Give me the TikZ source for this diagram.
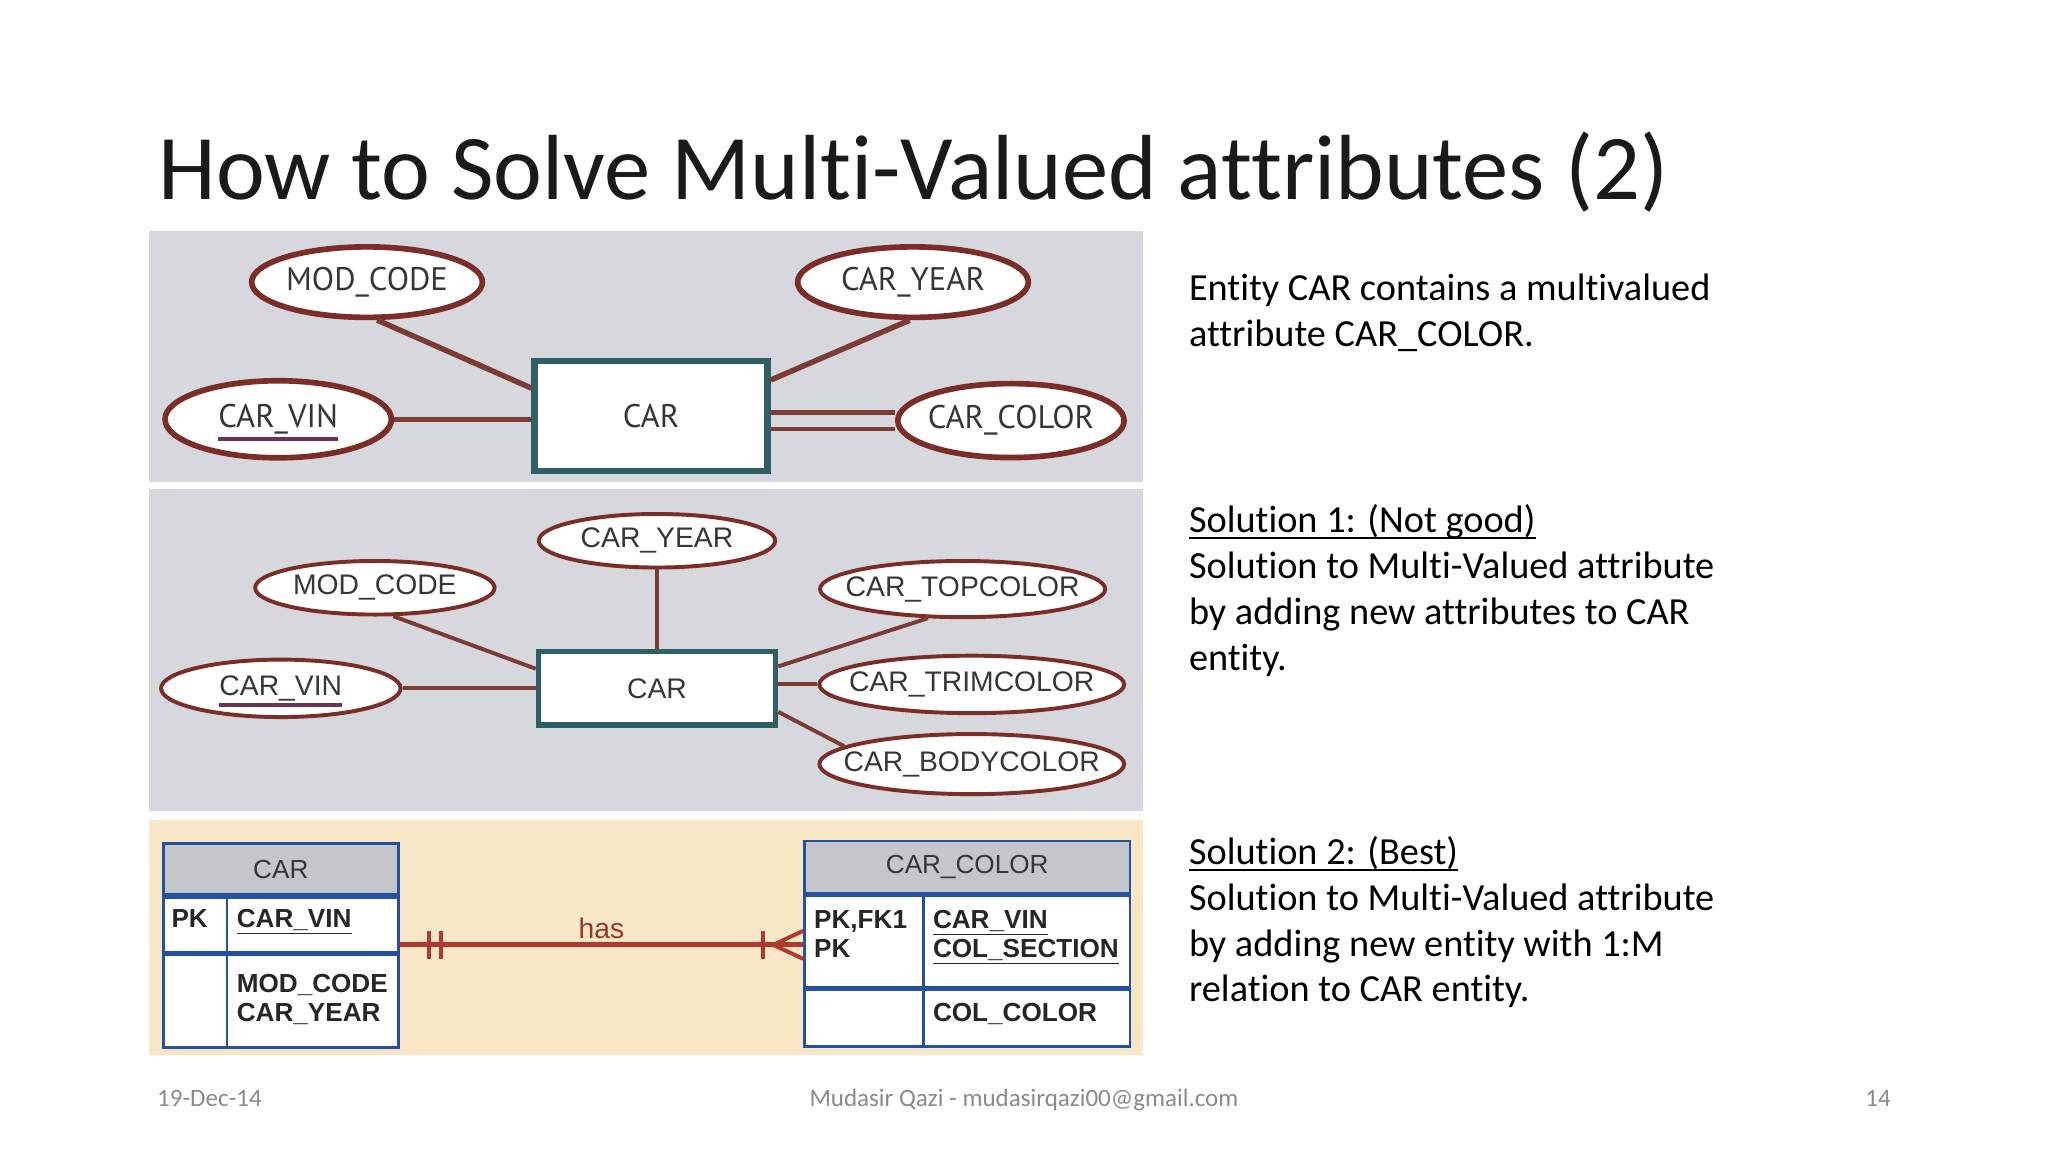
\documentclass[tikz,border=0pt]{standalone}
\usepackage{fontspec}
\setmainfont{Carlito}[Ligatures=NoCommon]
\newfontfamily\erfont{PT Sans}
\newfontfamily\erwide{Liberation Sans}
\newfontfamily\tbfont{Liberation Sans}
\usetikzlibrary{shapes.geometric,positioning,calc}
\definecolor{erbg}{HTML}{D7D8DD}
\definecolor{erbeige}{HTML}{F8E7C6}
\definecolor{erbrown}{HTML}{7B2D28}
\definecolor{erline}{HTML}{7D3B36}
\definecolor{erteal}{HTML}{2F5E63}
\definecolor{ertext}{HTML}{363636}
\definecolor{erkeyline}{HTML}{6B3550}
\definecolor{tbblue}{HTML}{2450A0}
\definecolor{tbgray}{HTML}{C3C6CB}
\definecolor{relred}{HTML}{B0392E}
\definecolor{footgray}{HTML}{8A8A8A}
\definecolor{titleink}{HTML}{1A1A1A}
% underline of a key attribute: a rule below the word
\newcommand\erkey[3]{\setbox0\hbox{#1}\rlap{\smash{\color{erkeyline}\rule[-#2]{\wd0}{#3}}}\box0}
\newcommand\slideul[1]{\setbox0\hbox{#1}\rlap{\rule[-3pt]{\wd0}{1pt}}\box0}
\tikzset{
  attr/.style={ellipse, draw=erbrown, line width=2.6pt, fill=white, text=ertext,
    inner xsep=-25pt, inner ysep=0pt, font=\erfont\fontsize{15}{17}\selectfont},
  attrb/.style={attr, line width=1.8pt, font=\erwide\fontsize{13}{15}\selectfont},
  entity/.style={draw=erteal, line width=3pt, fill=white, text=ertext, inner sep=0pt,
    font=\erfont\fontsize{15}{17}\selectfont},
  entityb/.style={entity, line width=2.4pt, font=\erwide\fontsize{13}{15}\selectfont},
  erlink/.style={draw=erline, line width=2.5pt},
  erlinkb/.style={erlink, line width=1.8pt},
  tbcell/.style={draw=tbblue, line width=1.2pt, fill=white, inner sep=0pt},
  tbhead/.style={tbcell, fill=tbgray, text=ertext, font=\tbfont\fontsize{12}{14}\selectfont},
  tbtext/.style={anchor=base west, inner sep=0pt, text=black!85, align=left,
    font=\tbfont\bfseries\fontsize{12}{14}\selectfont},
  rel/.style={draw=relred, line width=2.3pt},
  relbar/.style={draw=relred, line width=1.8pt},
  para/.style={anchor=base west, align=left, inner sep=0pt, font=\fontsize{17.6}{21}\selectfont},
  foot/.style={inner sep=0pt, text=footgray, font=\fontsize{11.5}{13}\selectfont}
}
\begin{document}
\begin{tikzpicture}[x=0.6pt, y=-0.6pt]
\useasboundingbox (0,0) rectangle (1568,882);
% panels
\fill[erbg] (114,177) rectangle (875,369);
\fill[erbg] (114,374) rectangle (875,621);
\fill[erbeige] (114,628) rectangle (875,808);

\node[anchor=base west, inner sep=0pt, text=titleink, font=\fontsize{42.5}{50}\selectfont] (title) at (121,153)
  {How to Solve Multi-Valued attributes (2)};

% panel 1: CAR with multivalued CAR_COLOR
\node[entity, minimum width=107pt, minimum height=50.4pt] (car1) at (498.5,318.5) {CAR};
\node[attr, minimum width=106pt, minimum height=32.4pt] (mod1) at (281,216) {MOD\_CODE};
\node[attr, minimum width=106pt, minimum height=32.4pt] (year1) at (699,216) {CAR\_YEAR};
\node[attr, minimum width=104pt, minimum height=35.4pt] (vin1) at (213,321) {\erkey{CAR\_VIN}{6.3pt}{2.1pt}};
\node[attr, minimum width=104pt, minimum height=34pt] (col1) at (774,322) {CAR\_COLOR};
\draw[erlink] (mod1.-75) -- ($(car1.north west)!0.26!(car1.south west)$);
\draw[erlink] (year1.-95) -- ($(car1.north east)!0.19!(car1.south east)$);
\draw[erlink] (vin1.east) -- (vin1.east -| car1.west);
\draw[erlink, line width=2.1pt, double=erbg, double distance=5.5pt] (col1.west -| car1.east) -- (col1.west);

% panel 2: solution 1
\node[entityb, minimum width=109pt, minimum height=33.6pt] (car2) at (503,527) {CAR};
\node[attrb, minimum width=108.6pt, minimum height=24.6pt] (year2) at (503,414) {CAR\_YEAR};
\node[attrb, minimum width=110pt, minimum height=24.6pt] (mod2) at (287,450) {MOD\_CODE};
\node[attrb, minimum width=131pt, minimum height=25.8pt] (top2) at (737,451) {CAR\_TOPCOLOR};
\node[attrb, minimum width=110pt, minimum height=26.4pt] (vin2) at (215,527) {\erkey{CAR\_VIN}{5.2pt}{1.7pt}};
\node[attrb, minimum width=140pt, minimum height=26.4pt] (trim2) at (744,524) {CAR\_TRIMCOLOR};
\node[attrb, minimum width=140pt, minimum height=27.6pt] (body2) at (744,585) {CAR\_BODYCOLOR};
\draw[erlinkb] (year2.south) -- (car2.north);
\draw[erlinkb] (mod2.-57) -- ($(car2.north west)!0.25!(car2.south west)$);
\draw[erlinkb] (top2.-140) -- ($(car2.north east)!0.22!(car2.south east)$);
\draw[erlinkb] (vin2.east) -- (vin2.east -| car2.west);
\draw[erlinkb] (trim2.west) -- (trim2.west -| car2.east);
\draw[erlinkb] (body2.172) -- ($(car2.north east)!0.8!(car2.south east)$);

% panel 3: solution 2, tables
\node[tbhead, minimum width=108pt, minimum height=23.4pt, anchor=north west] (carhd) at (124,645) {CAR};
\node[tbcell, minimum width=108pt, minimum height=25.2pt, anchor=north] (carpk) at (carhd.south) {};
\node[tbcell, minimum width=108pt, minimum height=42.6pt, anchor=north] (carat) at (carpk.south) {};
\draw[tbblue, line width=1.2pt] ([xshift=29.8pt]carpk.north west) -- ([xshift=29.8pt]carat.south west);
\node[tbtext] (carpkl) at (131,710) {PK};
\node[tbtext] (carvin) at (181,710) {\underline{CAR\_VIN}};
\node[tbtext] (carmod) at (181,782) {MOD\_CODE\\[-0.8pt]CAR\_YEAR};

\node[tbhead, minimum width=149.4pt, minimum height=24pt, anchor=north west] (colhd) at (615,643) {CAR\_COLOR};
\node[tbcell, minimum width=149.4pt, minimum height=42pt, anchor=north] (colpk) at (colhd.south) {};
\node[tbcell, minimum width=149.4pt, minimum height=25.8pt, anchor=north] (colat) at (colpk.south) {};
\draw[tbblue, line width=1.2pt] ([xshift=55.2pt]colpk.north west) -- ([xshift=55.2pt]colat.south west);
\node[tbtext] (colpkl) at (623,733) {PK,FK1\\[-0.8pt]PK};
\node[tbtext] (colkey) at (714,733) {\underline{CAR\_VIN}\\[-0.8pt]\underline{COL\_SECTION}};
\node[tbtext] (colcol) at (714,782) {COL\_COLOR};

% 1:M relationship
\coordinate (relL) at ($(carpk.north east)!0.85!(carpk.south east)$);
\coordinate (relR) at (relL -| colpk.west);
\draw[rel] (relL) -- node[above=-1.5pt, text=relred!90!black, font=\tbfont\fontsize{13}{15}\selectfont] (has) {has} (relR);
\draw[relbar] ($(relL)+(22.7,-10.75)$) -- ($(relL)+(22.7,10.75)$);
\draw[relbar] ($(relL)+(31.6,-10.75)$) -- ($(relL)+(31.6,10.75)$);
\draw[relbar] ($(relR)+(-30.5,-10.75)$) -- ($(relR)+(-30.5,10.75)$);
\draw[relbar] ($(relR)+(-23,0)$) -- ($(relR)+(0,-10.75)$);
\draw[relbar] ($(relR)+(-23,0)$) -- ($(relR)+(0,10.75)$);

% explanations
\node[para] (intro) at (910,265) {Entity CAR contains a multivalued\\attribute CAR\_COLOR.};
\node[para] (sol1) at (910,513) {\slideul{Solution 1: (Not good)}\\Solution to Multi-Valued attribute\\by adding new attributes to CAR\\entity.};
\node[para] (sol2) at (910,767) {\slideul{Solution 2: (Best)}\\Solution to Multi-Valued attribute\\by adding new entity with 1:M\\relation to CAR entity.};

% footer
\node[foot, anchor=base west] (date) at (120,847) {19-Dec-14};
\node[foot, anchor=base] (author) at (784,847) {Mudasir Qazi - mudasirqazi00@gmail.com};
\node[foot, anchor=base east] (page) at (1448,847) {14};
\end{tikzpicture}
\end{document}
